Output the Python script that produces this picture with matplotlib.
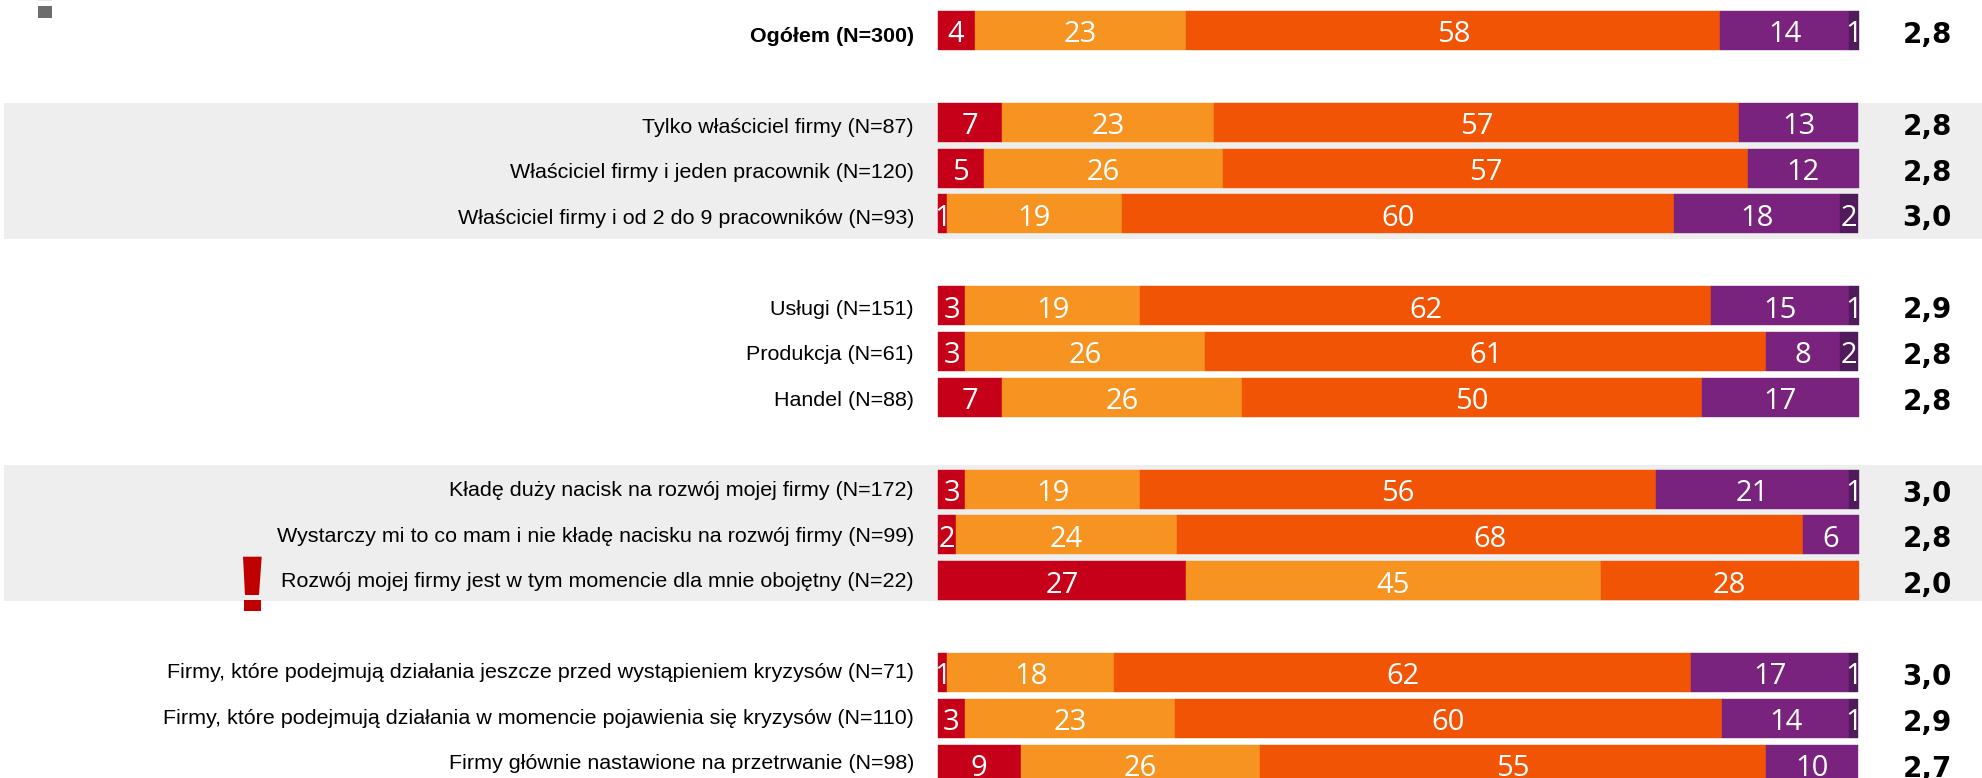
import matplotlib
matplotlib.use('Agg')
import matplotlib.pyplot as plt
from matplotlib.patches import Polygon, Rectangle

W, H = 1983, 778

labels = [
    'Ogółem (N=300)',
    'Tylko właściciel firmy (N=87)',
    'Właściciel firmy i jeden pracownik (N=120)',
    'Właściciel firmy i od 2 do 9 pracowników (N=93)',
    'Usługi (N=151)',
    'Produkcja (N=61)',
    'Handel (N=88)',
    'Kładę duży nacisk na rozwój mojej firmy (N=172)',
    'Wystarczy mi to co mam i nie kładę nacisku na rozwój firmy (N=99)',
    'Rozwój mojej firmy jest w tym momencie dla mnie obojętny (N=22)',
    'Firmy, które podejmują działania jeszcze przed wystąpieniem kryzysów (N=71)',
    'Firmy, które podejmują działania w momencie pojawienia się kryzysów (N=110)',
    'Firmy głównie nastawione na przetrwanie (N=98)',
]
slots = [0, 2, 3, 4, 6, 7, 8, 10, 11, 12, 14, 15, 16]

red = [4, 7, 5, 1, 3, 3, 7, 3, 2, 27, 1, 3, 9]
orange = [23, 23, 26, 19, 19, 26, 26, 19, 24, 45, 18, 23, 26]
dark_orange = [58, 57, 57, 60, 62, 61, 50, 56, 68, 28, 62, 60, 55]
purple = [14, 13, 12, 18, 15, 8, 17, 21, 6, 0, 17, 14, 10]
dark_purple = [1, 0, 0, 2, 1, 2, 0, 1, 0, 0, 1, 1, 0]
means = ['2,8', '2,8', '2,8', '3,0', '2,9', '2,8', '2,8', '3,0', '2,8', '2,0', '3,0', '2,9', '2,7']

series = [red, orange, dark_orange, purple, dark_purple]
colors = ['#c70019', '#f79320', '#f25406', '#7a237e', '#4f1b5b']

# пиксели исходной картинки -> координаты осей
BAR_L, BAR_R = 937.7, 1858.5
PX_PCT = (BAR_R - BAR_L) / 100
ROW0, ROW_STEP = 30.5, 45.85


def px_x(px):
    return (px - BAR_L) / PX_PCT


def px_y(px):
    return (px - ROW0) / ROW_STEP


fig = plt.figure(figsize=(W / 100, H / 100), dpi=100, facecolor='white')
ax = fig.add_axes([0, 0, 1, 1])
ax.set_xlim(px_x(0), px_x(W))
ax.set_ylim(px_y(H), px_y(0))
ax.axis('off')

# серые полосы за группами
for top, bottom in [(103, 239), (465, 600.7)]:
    ax.add_patch(Rectangle((px_x(4), px_y(top)), px_x(W) - px_x(4), px_y(bottom) - px_y(top),
                           color='#eeeeee', lw=0, zorder=0))

# значки: серый квадрат и красный восклицательный знак
ax.add_patch(Rectangle((px_x(38), px_y(5.7)), 14 / PX_PCT, 12 / ROW_STEP, color='#6d6d6d', lw=0))
ax.add_patch(Rectangle((px_x(38), px_y(0)), 14 / PX_PCT, 1 / ROW_STEP, color='#e8e8e8', lw=0))
ax.add_patch(Polygon([(px_x(243), px_y(556.7)), (px_x(261.7), px_y(556.7)),
                      (px_x(259), px_y(595)), (px_x(245), px_y(595))],
                     closed=True, color='#c00000', lw=0, zorder=3))
ax.add_patch(Rectangle((px_x(243.7), px_y(600)), 17 / PX_PCT, 10.7 / ROW_STEP,
                       color='#c00000', lw=0, zorder=3))

# полосы
for i, slot in enumerate(slots):
    vals = [s[i] for s in series]
    total = sum(vals)
    left = 0
    for v, c in zip(vals, colors):
        if v == 0:
            continue
        w = v * 100 / total
        ax.barh(slot, w, left=left, height=39 / ROW_STEP, color=c, edgecolor=c, lw=0.3, zorder=2)
        ax.text(left + w / 2, slot + 1 / ROW_STEP, str(v), ha='center', va='center_baseline',
                color='white', fontsize=21, family='Open Sans', zorder=4)
        left += w

    # подписи идут чуть плотнее, чем полосы
    label_px = 34.5 + 45.45 * slot
    ax.text(px_x(914), px_y(label_px), labels[i], ha='right', va='center_baseline', color='black',
            fontsize=15.45, family='Liberation Sans', fontweight='bold' if i == 0 else 'normal')
    ax.text(px_x(1927), slot + 1.5 / ROW_STEP, means[i], ha='center', va='center_baseline',
            color='black', fontsize=20, family='DejaVu Sans', fontweight='bold')

fig.savefig('out.png', dpi=100)
